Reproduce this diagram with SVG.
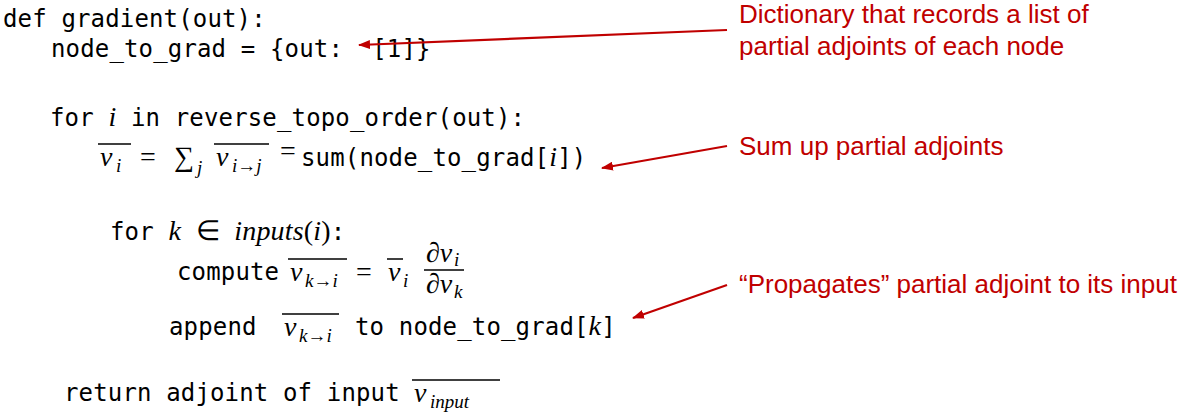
<svg xmlns="http://www.w3.org/2000/svg" width="1181" height="413" viewBox="0 0 1181 413">
<defs>
<marker id="ah" markerWidth="12" markerHeight="9" refX="11" refY="4.5" orient="auto" markerUnits="userSpaceOnUse">
<path d="M0,0 L12,4.5 L0,9 Z" fill="#c00000"/>
</marker>
<style>
.m{font-family:"DejaVu Sans Mono",monospace;font-size:24px;letter-spacing:0.15px;fill:#000;white-space:pre}
.v{font-family:"Liberation Serif",serif;font-style:italic;font-size:28px;fill:#000}
.s{font-family:"Liberation Serif",serif;font-style:italic;font-size:19px;fill:#000}
.r{font-family:"Liberation Serif",serif;font-size:28px;fill:#000}
.a{font-family:"Liberation Sans",sans-serif;font-size:26px;fill:#c00000}
.ol{stroke:#000;stroke-width:1.5}
.c{stroke:#c00000;stroke-width:2.2;fill:none}
</style>
</defs>
<rect width="1181" height="413" fill="#fff"/>
<g id="code">
<text class="m" x="3" y="27">def gradient(out):</text>
<text class="m" x="51" y="57" xml:space="preserve">node_to_grad = {out:  [1]}</text>
<text class="m" x="50" y="126">for <tspan class="v">i</tspan> in reverse_topo_order(out):</text>
<text class="v" x="100" y="166">v</text><text class="s" x="116" y="172">i</text>
<line class="ol" x1="98" y1="144" x2="131" y2="144"/>
<text class="r" x="140" y="166">=</text>
<text class="r" x="174" y="166">∑</text><text class="s" x="197" y="174">j</text>
<text class="v" x="216" y="166">v</text><text class="s" x="232" y="172">i→j</text>
<line class="ol" x1="214" y1="144" x2="269" y2="144"/>
<text class="r" x="280" y="160" font-size="18">=</text>
<text class="m" x="301" y="166">sum(node_to_grad[<tspan class="v">i</tspan>])</text>
<text class="m" x="110" y="240">for <tspan class="v">k</tspan> <tspan class="r">∈</tspan> <tspan class="v">inputs</tspan><tspan class="r">(</tspan><tspan class="v">i</tspan><tspan class="r">)</tspan>:</text>
<text class="m" x="177" y="280">compute</text>
<text class="v" x="290" y="281">v</text><text class="s" x="305" y="287">k→i</text>
<line class="ol" x1="288" y1="259" x2="347" y2="259"/>
<text class="r" x="356" y="281">=</text>
<text class="v" x="388" y="281">v</text><text class="s" x="403" y="287">i</text>
<line class="ol" x1="387" y1="259" x2="403" y2="259"/>
<text class="v" x="426" y="262" font-size="22">∂v</text><text class="s" x="454" y="266" font-size="15">i</text>
<line class="ol" x1="424" y1="270" x2="464" y2="270"/>
<text class="v" x="426" y="293" font-size="22">∂v</text><text class="s" x="454" y="298" font-size="15">k</text>
<text class="m" x="169" y="335">append</text>
<text class="v" x="284" y="336">v</text><text class="s" x="299" y="342">k→i</text>
<line class="ol" x1="282" y1="314" x2="339" y2="314"/>
<text class="m" x="355" y="335">to node_to_grad[<tspan class="v">k</tspan>]</text>
<text class="m" x="64" y="401">return adjoint of input</text>
<text class="v" x="414" y="402">v</text><text class="s" x="430" y="408">input</text>
<line class="ol" x1="412" y1="380" x2="500" y2="380"/>
</g>
<g id="notes">
<text class="a" x="739" y="23">Dictionary that records a list of</text>
<text class="a" x="739" y="55">partial adjoints of each node</text>
<text class="a" x="739" y="155">Sum up partial adjoints</text>
<text class="a" x="739" y="293">“Propagates” partial adjoint to its input</text>
</g>
<g id="connectors">
<line class="c" x1="727" y1="30" x2="359" y2="45" marker-end="url(#ah)"/>
<line class="c" x1="727" y1="146" x2="602" y2="168" marker-end="url(#ah)"/>
<line class="c" x1="727" y1="285" x2="633" y2="318" marker-end="url(#ah)"/>
</g>
</svg>
